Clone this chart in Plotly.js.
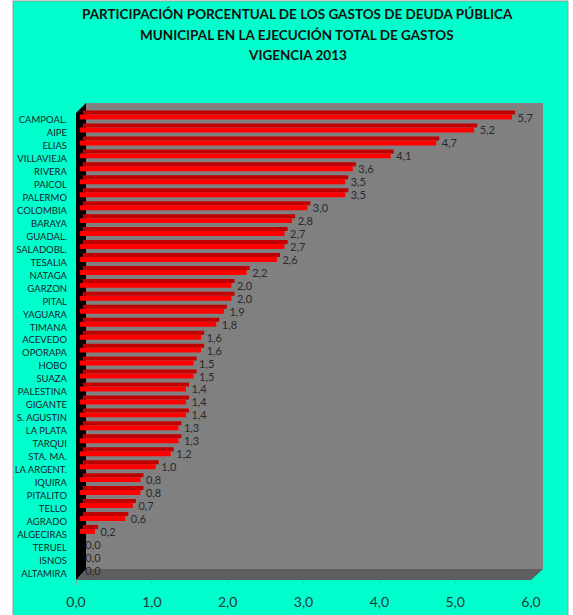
<!DOCTYPE html>
<html>
<head>
<meta charset="utf-8">
<script src="https://cdn.plot.ly/plotly-3.0.1.min.js"></script>
<style>html,body{margin:0;padding:0;background:#fff;}#chart{width:573px;height:615px;}</style>
</head>
<body>
<div id="chart"></div>
<script>
const categories = ["CAMPOAL.","AIPE","ELIAS","VILLAVIEJA","RIVERA","PAICOL","PALERMO","COLOMBIA","BARAYA","GUADAL.","SALADOBL.","TESALIA","NATAGA","GARZON","PITAL","YAGUARA","TIMANA","ACEVEDO","OPORAPA","HOBO","SUAZA","PALESTINA","GIGANTE","S. AGUSTIN","LA PLATA","TARQUI","STA. MA.","LA ARGENT.","IQUIRA","PITALITO","TELLO","AGRADO","ALGECIRAS","TERUEL","ISNOS","ALTAMIRA"];
const values = [5.7,5.2,4.7,4.1,3.6,3.5,3.5,3.0,2.8,2.7,2.7,2.6,2.2,2.0,2.0,1.9,1.8,1.6,1.6,1.5,1.5,1.4,1.4,1.4,1.3,1.3,1.2,1.0,0.8,0.8,0.7,0.6,0.2,0.0,0.0,0.0];
const xTicks = [0,1,2,3,4,5,6];
const titleLines = ["PARTICIPACIÓN PORCENTUAL DE LOS GASTOS DE DEUDA PÚBLICA","MUNICIPAL EN LA EJECUCIÓN TOTAL DE GASTOS","VIGENCIA 2013"];

const W = 573, H = 615;
const M = {l:76, r:42, t:103, b:35};
const PW = W - M.l - M.r, PH = H - M.t - M.b;
const fx = px => (px - M.l) / PW;
const fy = py => (H - M.b - py) / PH;
const FONT = 'Lato, "Liberation Sans", sans-serif';

const labels = values.map(v => v.toFixed(1).replace('.', ','));

const topFace = {
  type:'bar', orientation:'h', y:categories, x:values, base:0.09,
  offset:-0.73, width:0.31,
  marker:{color:'#C00000', line:{width:0}},
  hoverinfo:'skip', showlegend:false
};
const frontFace = {
  type:'bar', orientation:'h', y:categories, x:values, base:0.05,
  offset:-0.42, width:0.38,
  marker:{color:'#FF0000', line:{width:0}},
  text:labels, texttemplate:'\u2002%{text}', textposition:'outside', cliponaxis:false, constraintext:'none',
  textfont:{family:FONT, size:11, color:'#2a2a2a'},
  hoverinfo:'skip', showlegend:false
};

const path = pts => 'M ' + pts.map(p => fx(p[0]).toFixed(4) + ',' + fy(p[1]).toFixed(4)).join(' L ') + ' Z';

const titleY = [14.5, 34.5, 54.5];
const annotations = titleLines.map((t, i) => ({
  text:'<b>' + t + '</b>', showarrow:false,
  xref:'paper', yref:'paper', x:fx(297), y:fy(titleY[i]),
  xanchor:'center', yanchor:'middle',
  font:{family:FONT, size:13.5, color:'#111111'}
}));

const layout = {
  width:W, height:H,
  margin:{l:M.l, r:M.r, t:M.t, b:M.b, pad:0},
  paper_bgcolor:'#ffffff', plot_bgcolor:'rgba(0,0,0,0)',
  separators:',.',
  barmode:'overlay',
  showlegend:false,
  annotations:annotations,
  xaxis:{
    range:[0,6], tickvals:xTicks, tickformat:'.1f',
    showgrid:false, zeroline:false, showline:false,
    ticks:'outside', ticklen:4, tickcolor:'#8aa0a0', tickwidth:1,
    ticklabelstandoff:5,
    tickfont:{family:FONT, size:14, color:'#1c3a3a'}
  },
  yaxis:{
    type:'category', categoryorder:'array', categoryarray:categories,
    tickmode:'array', tickvals:categories, ticktext:categories,
    range:[(H - M.b - 120)/12.95, -(120 - M.t)/12.95],
    showgrid:false, zeroline:false, showline:false, ticks:'',
    ticklabelstandoff:8,
    tickfont:{family:FONT, size:9.5, color:'#1a1a30'}
  },
  shapes:[
    {type:'rect', xref:'paper', yref:'paper', layer:'below',
     x0:fx(13), x1:fx(568), y0:fy(620), y1:fy(1),
     fillcolor:'#00FFCC', line:{color:'#9a9a9a', width:1}},
    {type:'rect', xref:'paper', yref:'paper', layer:'below',
     x0:fx(86), x1:fx(543), y0:fy(569), y1:fy(103),
     fillcolor:'#808080', line:{width:0}},
    {type:'path', xref:'paper', yref:'paper', layer:'below',
     path:path([[76,580],[86,569],[543,569],[531,580]]),
     fillcolor:'#5e5e5e', line:{width:0}},
    {type:'path', xref:'paper', yref:'paper', layer:'below',
     path:path([[76,580],[76,113],[86,103],[86,569]]),
     fillcolor:'#000000', line:{width:0}}
  ]
};

Plotly.newPlot('chart', [topFace, frontFace], layout, {staticPlot:true, displayModeBar:false});
</script>
</body>
</html>
